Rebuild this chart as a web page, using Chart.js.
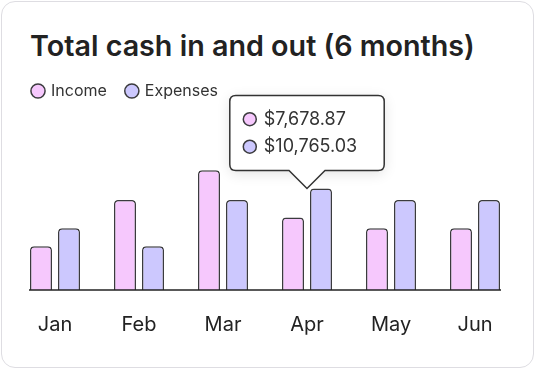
<!DOCTYPE html>
<html>
<head>
<meta charset="utf-8">
<script src="https://cdn.jsdelivr.net/npm/chart.js@4.4.1/dist/chart.umd.min.js"></script>
<style>
  html, body { margin: 0; padding: 0; background: #fff; }
  .card {
    position: absolute; left: 1px; top: 1px; width: 533px; height: 367px;
    box-sizing: border-box; border: 1.5px solid #dedde2; border-radius: 14px; background: #fff;
  }
  h1 {
    position: absolute; left: 30px; top: 32px; margin: 0;
    font-family: Inter, sans-serif; font-weight: 600; font-size: 28.7px; line-height: 1;
    color: #222; white-space: nowrap;
  }
  .wrap { position: absolute; left: 0; top: 0; width: 536px; height: 370px; }
</style>
</head>
<body>
<div class="card"></div>
<h1>Total cash in and out (6 months)</h1>
<div class="wrap"><canvas id="cashChart"></canvas></div>
<script>
  // chart data
  const months = ["Jan", "Feb", "Mar", "Apr", "May", "Jun"];
  const income = [4650, 9550, 12700, 7678.87, 6550, 6550];
  const expenses = [6550, 4650, 9550, 10765.03, 9550, 9550];
  const highlightIndex = 3;

  const incomeColor = "#f6c8fd";
  const expenseColor = "#ccc8fe";
  const edgeColor = "#3b3b3e";

  // tooltip sits over the taller bar of the hovered month
  Chart.Tooltip.positioners.topAverage = function (items) {
    if (!items.length) return false;
    let x = 0, y = Infinity;
    items.forEach(it => { x += it.element.x; y = Math.min(y, it.element.y); });
    return { x: x / items.length, y: y };
  };

  // baseline under the bars
  const baseline = {
    id: "baseline",
    afterDatasetsDraw(chart) {
      const a = chart.getDatasetMeta(0).data[0];
      const b = chart.getDatasetMeta(1).data[months.length - 1];
      const y = chart.scales.y.getPixelForValue(0);
      const ctx = chart.ctx;
      ctx.save();
      ctx.strokeStyle = "#222";
      ctx.lineWidth = 1.5;
      ctx.beginPath();
      ctx.moveTo(a.x - a.width / 2 - 1, y);
      ctx.lineTo(b.x + b.width / 2 + 1, y);
      ctx.stroke();
      ctx.restore();
    },
    // soft shadow behind the tooltip box
    beforeTooltipDraw(chart, args) {
      const t = args.tooltip;
      if (!t.opacity) return;
      const ctx = chart.ctx;
      ctx.save();
      ctx.shadowColor = "rgba(0,0,0,0.12)";
      ctx.shadowBlur = 14;
      ctx.shadowOffsetY = 3;
      ctx.fillStyle = "#fff";
      ctx.beginPath();
      ctx.roundRect(t.x, t.y, t.width, t.height, 6);
      ctx.fill();
      ctx.restore();
    }
  };

  Chart.defaults.font.family = "Inter, sans-serif";

  const fmt = v => "$" + v.toLocaleString("en-US", { minimumFractionDigits: 2, maximumFractionDigits: 2 });

  const ctx = document.getElementById("cashChart").getContext("2d");
  const chart = new Chart(ctx, {
    type: "bar",
    data: {
      labels: months,
      datasets: [
        { label: "Income", data: income, backgroundColor: incomeColor },
        { label: "Expenses", data: expenses, backgroundColor: expenseColor }
      ]
    },
    options: {
      responsive: true,
      maintainAspectRatio: false,
      animation: false,
      events: [],
      layout: { padding: { left: 13, right: 19, top: 63, bottom: 10 } },
      datasets: {
        bar: {
          borderColor: edgeColor,
          borderWidth: 1.5,
          borderRadius: { topLeft: 4, topRight: 4 },
          borderSkipped: "bottom",
          categoryPercentage: 0.667,
          barPercentage: 0.786,
          pointStyle: "circle"
        }
      },
      scales: {
        x: {
          grid: { display: false, drawTicks: false },
          border: { display: false },
          ticks: { color: "#222", font: { size: 20 }, padding: 23 }
        },
        y: { display: false, min: 0, max: 19190 }
      },
      plugins: {
        legend: {
          position: "top",
          align: "start",
          labels: {
            usePointStyle: true,
            boxWidth: 10,
            boxHeight: 10,
            padding: 20,
            color: "#333",
            font: { size: 16 }
          }
        },
        tooltip: {
          position: "topAverage",
          mode: "index",
          backgroundColor: "#fff",
          borderColor: "#333",
          borderWidth: 1.5,
          cornerRadius: 6,
          caretSize: 18,
          caretPadding: 0,
          xAlign: "center",
          yAlign: "bottom",
          padding: { top: 12.5, bottom: 12.5, left: 8, right: 27 },
          bodyFont: { size: 18, lineHeight: 1.25 },
          bodyColor: "#333",
          bodySpacing: 5,
          usePointStyle: true,
          boxWidth: 24,
          boxHeight: 13,
          multiKeyBackground: "#fff",
          callbacks: {
            title: () => [],
            label: c => fmt(c.raw),
            labelColor: c => ({ borderColor: edgeColor, backgroundColor: c.datasetIndex ? expenseColor : incomeColor }),
            labelPointStyle: () => ({ pointStyle: "circle", rotation: 0 })
          }
        }
      }
    },
    plugins: [baseline]
  });

  chart.tooltip.setActiveElements(
    [{ datasetIndex: 0, index: highlightIndex }, { datasetIndex: 1, index: highlightIndex }],
    { x: 0, y: 0 }
  );
  chart.update();
</script>
</body>
</html>
